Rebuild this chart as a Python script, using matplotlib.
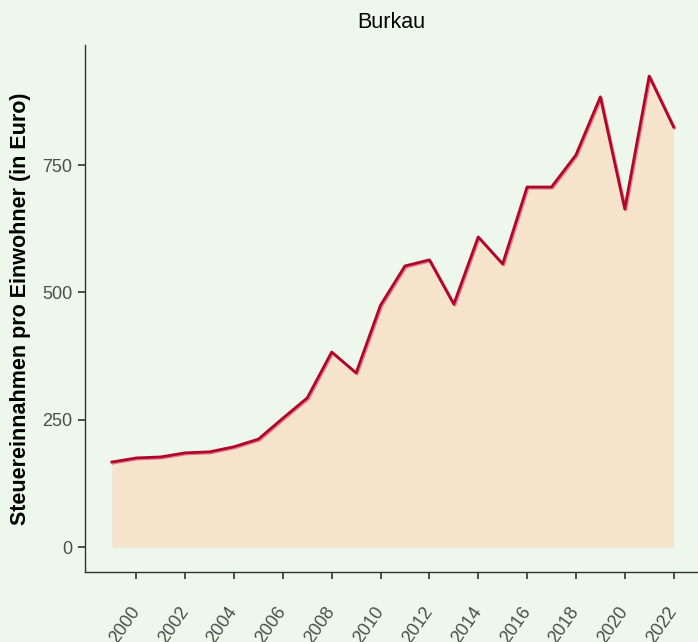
import matplotlib.pyplot as plt
import matplotlib.patheffects as pe

years = list(range(1999, 2023))
steuern = [167, 175, 177, 185, 187, 197, 212, 253, 293, 383, 342, 475,
           552, 564, 477, 609, 556, 707, 707, 770, 884, 664, 925, 825]
tick_years = list(range(2000, 2023, 2))
y_ticks = [0, 250, 500, 750]

bg = "#EEF7EC"
plt.rcParams["font.family"] = ["Liberation Sans", "DejaVu Sans"]

fig = plt.figure(figsize=(6.98, 6.42), dpi=100, facecolor=bg)
ax = fig.add_axes([0.1218, 0.109, 0.8782, 0.821])
ax.set_facecolor(bg)

ax.fill_between(years, steuern, 0, color="#F5E3CC", lw=0)
ax.plot(years, steuern, color="#B0062A", lw=2,
        path_effects=[pe.SimpleLineShadow(offset=(0.8, -0.8), shadow_color="#E07A88", alpha=1),
                      pe.Normal()])

ax.set_xlim(1997.9, 2023.0)
ax.set_ylim(-49, 986)
ax.set_xticks(tick_years)
ax.set_xticklabels([str(y) for y in tick_years], rotation=55, ha="right",
                   va="center", rotation_mode="anchor")
ax.set_yticks(y_ticks)

for s in ["top", "right"]:
    ax.spines[s].set_visible(False)
for s in ["left", "bottom"]:
    ax.spines[s].set_color("#333333")
    ax.spines[s].set_linewidth(1.0)

ax.tick_params(axis="both", colors="#333333", length=5, width=1.2,
               labelcolor="#4D4D4D", labelsize=13)
ax.tick_params(axis="x", pad=21)
ax.tick_params(axis="y", pad=4)

ax.set_ylabel("Steuereinnahmen pro Einwohner (in Euro)", fontsize=15.5,
              fontweight="bold", color="black", labelpad=8)
ax.set_title("Burkau", fontsize=15.5, color="black", pad=12)

fig.savefig("out.png", dpi=100, facecolor=bg)
